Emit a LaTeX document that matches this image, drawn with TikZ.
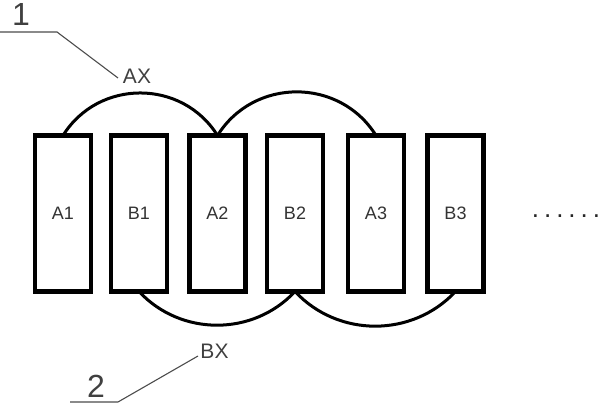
\documentclass[tikz,border=0pt]{standalone}
\usepackage{fontspec}
\setmainfont{Liberation Sans}
\begin{document}
\begin{tikzpicture}[x=1pt,y=1pt,
  cell/.style={draw, line width=4.5pt, minimum width=56pt, minimum height=156pt,
    inner sep=0pt, outer sep=0pt, font=\fontsize{18}{18}\selectfont, text=black!80},
  link/.style={line width=3pt},
  leader/.style={line width=1.1pt, draw=black!70},
  lbl/.style={font=\fontsize{21}{21}\selectfont, text=black!75, inner sep=0pt},
  numlbl/.style={font=\fontsize{32}{32}\selectfont, text=black!75, inner sep=0pt}]
\useasboundingbox (0,0) rectangle (600,404);
\node[cell] (A1) at (63,190.5) {A1};
\node[cell] (B1) at (139,190.5) {B1};
\node[cell] (A2) at (217.5,190.5) {A2};
\node[cell] (B2) at (295,190.5) {B2};
\node[cell] (A3) at (376,190.5) {A3};
\node[cell] (B3) at (455.5,190.5) {B3};
\node[font=\fontsize{26}{26}\selectfont, text=black!85, inner sep=0pt, anchor=base] (dots) at (566,186)
  {.\kern5pt.\kern5pt.\kern5pt.\kern5pt.\kern5pt.};
\draw[link] (A1.north) to[out=58,in=122,looseness=1.11] (A2.north);
\draw[link] (A2.north) to[out=58,in=122,looseness=1.11] (A3.north);
\draw[link] (B1.south) to[out=-47,in=-133,looseness=1.01] (B2.south);
\draw[link] (B2.south) to[out=-47,in=-133,looseness=1.01] (B3.south);
\node[lbl] (AX) at (137,328) {AX};
\node[lbl] (BX) at (214.5,52.5) {BX};
\node[numlbl, anchor=base] (n1) at (21,378) {1};
\node[numlbl, anchor=base] (n2) at (96,6) {2};
\coordinate (s1) at (0,372);
\coordinate (k1) at (57,372);
\coordinate (e1) at (118,326);
\coordinate (s2) at (70,2);
\coordinate (k2) at (118,2);
\coordinate (e2) at (198,48);
\draw[leader] (s1) -- (k1) -- (e1);
\draw[leader] (s2) -- (k2) -- (e2);
\end{tikzpicture}
\end{document}
